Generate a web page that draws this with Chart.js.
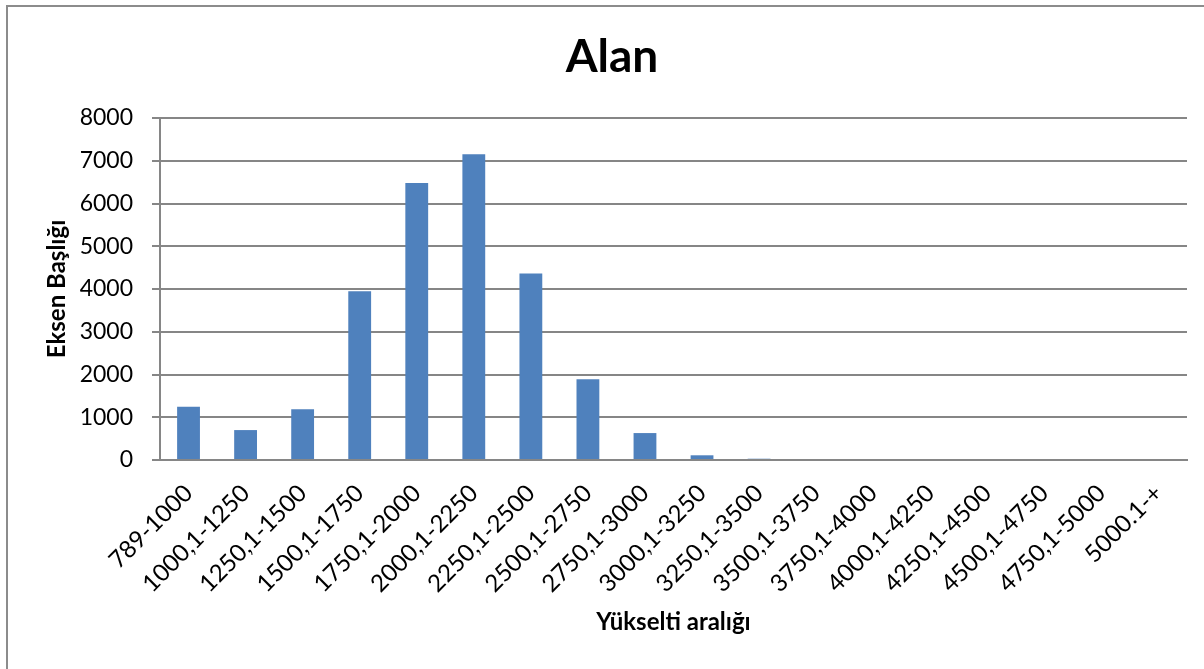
<!DOCTYPE html>
<html>
<head>
<meta charset="utf-8">
<script src="https://cdn.jsdelivr.net/npm/chart.js@4"></script>
<style>
html,body{margin:0;padding:0;background:#fff;}
#wrap{position:relative;width:1204px;height:669px;}
</style>
</head>
<body>
<div id="wrap"><canvas id="c" width="1204" height="669"></canvas></div>
<script>
const categories = ["789-1000","1000,1-1250","1250,1-1500","1500,1-1750","1750,1-2000","2000,1-2250","2250,1-2500","2500,1-2750","2750,1-3000","3000,1-3250","3250,1-3500","3500,1-3750","3750,1-4000","4000,1-4250","4250,1-4500","4500,1-4750","4750,1-5000","5000.1-+"];
const alanValues = [1245, 700, 1190, 3945, 6480, 7150, 4365, 1890, 630, 110, 30, 0, 0, 0, 0, 0, 0, 0];
const yTicks = [0, 1000, 2000, 3000, 4000, 5000, 6000, 7000, 8000];
const chartTitle = "Alan";
const yTitle = "Eksen Başlığı";
const xTitle = "Yükselti aralığı";

const FONT = "Lato, 'Open Sans', sans-serif";
const GRID = "#868686";

const borderPlugin = {
  id: 'outerBorder',
  afterDraw(chart) {
    const ctx = chart.ctx;
    ctx.save();
    ctx.strokeStyle = "#8c8c8c";
    ctx.lineWidth = 2;
    ctx.beginPath();
    ctx.moveTo(7, 669);
    ctx.lineTo(7, 6);
    ctx.lineTo(1204, 6);
    ctx.stroke();
    ctx.restore();
  }
};

new Chart(document.getElementById('c'), {
  type: 'bar',
  data: {
    labels: categories,
    datasets: [{
      label: chartTitle,
      data: alanValues,
      backgroundColor: "#4F81BD",
      borderWidth: 0,
      barPercentage: 0.4,
      categoryPercentage: 1.0
    }]
  },
  options: {
    responsive: false,
    animation: false,
    devicePixelRatio: 1,
    layout: { padding: { left: 37, right: 17, top: 0, bottom: 10 } },
    plugins: {
      legend: { display: false },
      tooltip: { enabled: false },
      title: {
        display: true,
        text: chartTitle,
        color: "#000",
        font: { family: FONT, size: 46, weight: 'bold' },
        padding: { top: 29.4, bottom: 33.4 }
      }
    },
    scales: {
      x: {
        grid: { display: false, drawTicks: false },
        border: { display: true, color: GRID, width: 2 },
        ticks: {
          autoSkip: false,
          maxRotation: 45,
          minRotation: 45,
          color: "#000",
          padding: 19,
          font: { family: FONT, size: 24 }
        },
        title: {
          display: true,
          text: xTitle,
          color: "#000",
          font: { family: FONT, size: 24, weight: 'bold' },
          padding: { top: 4, bottom: 22.6 }
        },
        afterFit(scale) { scale.height = 199; }
      },
      y: {
        min: 0,
        max: 8000,
        afterBuildTicks(scale) { scale.ticks = yTicks.map(v => ({ value: v })); },
        grid: { color: GRID, lineWidth: 2, tickLength: 8, drawTicks: true },
        border: { display: true, color: GRID, width: 2 },
        ticks: {
          color: "#000",
          padding: 19,
          font: { family: FONT, size: 23 },
          callback: (v) => String(v)
        },
        title: {
          display: true,
          text: yTitle,
          color: "#000",
          font: { family: FONT, size: 24, weight: 'bold' },
          padding: { top: 5.6, bottom: 4 }
        },
        afterFit(scale) { scale.width = 123; }
      }
    }
  },
  plugins: [borderPlugin]
});
</script>
</body>
</html>
